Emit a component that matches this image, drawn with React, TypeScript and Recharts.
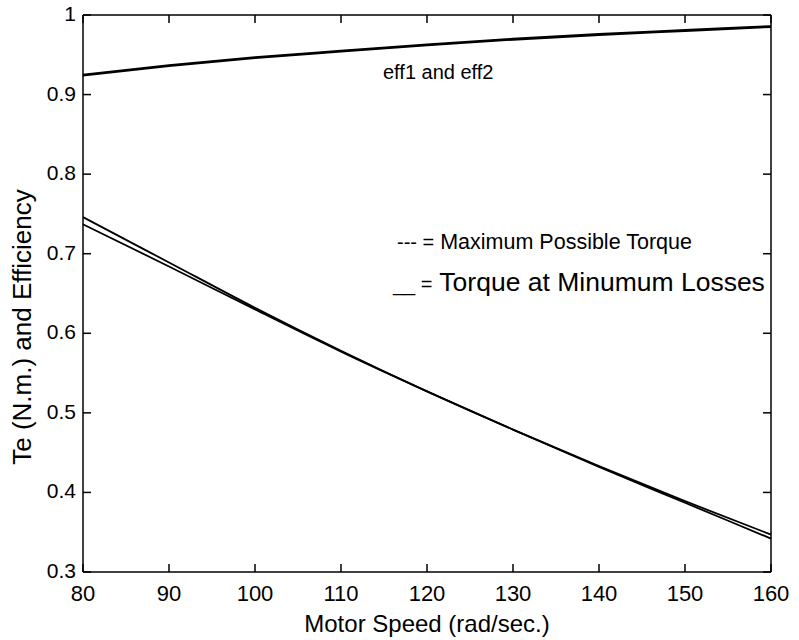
import { LineChart, Line, XAxis, YAxis, ReferenceLine } from 'recharts';

// motor speed (rad/sec.)
const speeds = [80, 90, 100, 110, 120, 130, 140, 150, 160];
// efficiency curves, nearly on top of each other
const eff1 = [0.925, 0.937, 0.947, 0.955, 0.963, 0.970, 0.976, 0.981, 0.986];
const eff2 = [0.924, 0.936, 0.946, 0.954, 0.962, 0.969, 0.975, 0.980, 0.985];
// torque curves (N.m.)
const torqueMax = [0.746, 0.689, 0.632, 0.578, 0.527, 0.479, 0.433, 0.389, 0.347];
const torqueMinLoss = [0.737, 0.684, 0.630, 0.577, 0.527, 0.479, 0.432, 0.387, 0.342];

const xTicks = [80, 90, 100, 110, 120, 130, 140, 150, 160];
const yTicks = [0.3, 0.4, 0.5, 0.6, 0.7, 0.8, 0.9, 1];

const data = speeds.map((s, i) => ({
  speed: s,
  eff1: eff1[i],
  eff2: eff2[i],
  tmax: torqueMax[i],
  tmin: torqueMinLoss[i],
}));

const font = '"Liberation Sans", Arial, sans-serif';
const W = 799;
const H = 640;
const M = { top: 15, right: 28, left: 0, bottom: 0 };
const X_AXIS_H = 68;
const Y_AXIS_W = 83;
const PLOT_TOP = M.top;
const PLOT_RIGHT = W - M.right;
const TICK = 8;
const axisLine = { stroke: '#000', strokeWidth: 1.5 };

const yFmt = (v: number) => (v === 1 ? '1' : v.toFixed(1));

// matlab-ish ticks: pointing inward, mirrored on the top edge
function XTick(props: any) {
  const { x, y, payload } = props;
  return (
    <g>
      <line x1={x} y1={y} x2={x} y2={y - TICK} stroke="#000" strokeWidth={1.5} />
      <line x1={x} y1={PLOT_TOP} x2={x} y2={PLOT_TOP + TICK} stroke="#000" strokeWidth={1.5} />
      <text x={x} y={y + 29} textAnchor="middle" fill="#000" fontSize={22} fontFamily={font}>
        {payload.value}
      </text>
    </g>
  );
}

// same on the left / right edges
function YTick(props: any) {
  const { x, y, payload } = props;
  return (
    <g>
      <line x1={x} y1={y} x2={x + TICK} y2={y} stroke="#000" strokeWidth={1.5} />
      <line x1={PLOT_RIGHT - TICK} y1={y} x2={PLOT_RIGHT} y2={y} stroke="#000" strokeWidth={1.5} />
      <text x={x - 7} y={y + 6} textAnchor="end" fill="#000" fontSize={21} fontFamily={font}>
        {yFmt(payload.value)}
      </text>
    </g>
  );
}

export default function App() {
  return (
    <div style={{ position: 'absolute', left: 0, top: 0, width: W, height: H, background: '#fff', fontFamily: font }}>
      <LineChart width={W} height={H} data={data} margin={M}>
        <XAxis
          dataKey="speed"
          type="number"
          domain={[80, 160]}
          ticks={xTicks}
          height={X_AXIS_H}
          tickSize={0}
          tickMargin={0}
          tickLine={false}
          axisLine={axisLine}
          tick={<XTick />}
          interval={0}
          label={{ value: 'Motor Speed (rad/sec.)', position: 'insideBottom', offset: 8, fill: '#000', fontSize: 24, fontFamily: font }}
        />
        <YAxis
          type="number"
          domain={[0.3, 1]}
          ticks={yTicks}
          width={Y_AXIS_W}
          tickSize={0}
          tickMargin={0}
          tickLine={false}
          axisLine={axisLine}
          tick={<YTick />}
          interval={0}
        />
        <ReferenceLine y={1} stroke="#000" strokeWidth={1.5} ifOverflow="visible" />
        <ReferenceLine x={160} stroke="#000" strokeWidth={1.5} ifOverflow="visible" />
        <Line type="monotone" dataKey="eff1" stroke="#000" strokeWidth={2} dot={false} isAnimationActive={false} />
        <Line type="monotone" dataKey="eff2" stroke="#000" strokeWidth={2} dot={false} isAnimationActive={false} />
        <Line type="monotone" dataKey="tmax" stroke="#000" strokeWidth={1.8} dot={false} isAnimationActive={false} />
        <Line type="monotone" dataKey="tmin" stroke="#000" strokeWidth={1.8} dot={false} isAnimationActive={false} />
      </LineChart>
      <div
        style={{
          position: 'absolute', left: 22, top: 327, fontSize: 26, color: '#000', whiteSpace: 'nowrap',
          transform: 'translate(-50%, -50%) rotate(-90deg)',
        }}
      >
        Te (N.m.) and Efficiency
      </div>
      <div style={{ position: 'absolute', left: 383, top: 61, fontSize: 20, color: '#000', whiteSpace: 'nowrap' }}>eff1 and eff2</div>
      <div style={{ position: 'absolute', left: 397, top: 230, fontSize: 21.5, color: '#000', whiteSpace: 'nowrap' }}>
        <span style={{ fontSize: 20 }}>--- =</span> Maximum Possible Torque
      </div>
      <div style={{ position: 'absolute', left: 393, top: 267, fontSize: 26.5, color: '#000', whiteSpace: 'nowrap' }}>
        <span style={{ fontSize: 20 }}>__ =</span> Torque at Minumum Losses
      </div>
    </div>
  );
}
